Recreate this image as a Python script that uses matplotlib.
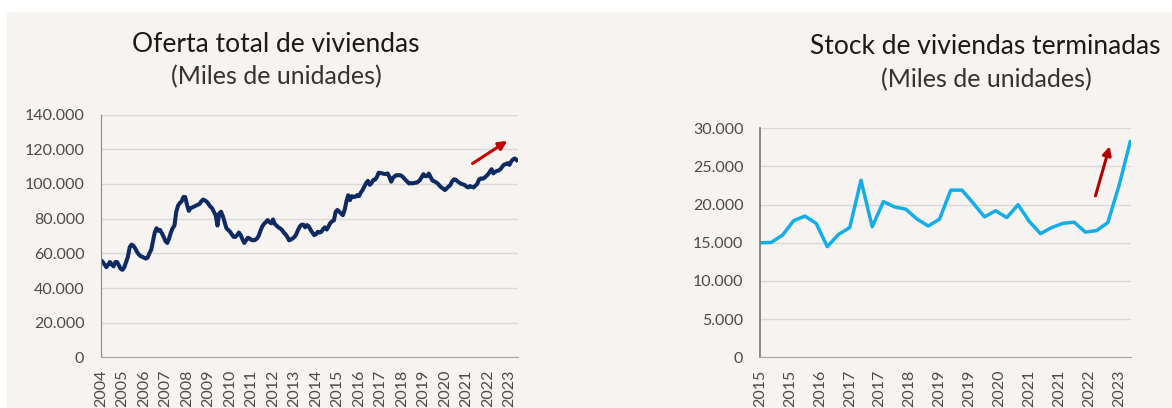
import matplotlib
matplotlib.use("Agg")
import matplotlib.pyplot as plt
from matplotlib.patches import Rectangle
from matplotlib.ticker import FuncFormatter

plt.rcParams['font.family'] = ['Lato', 'DejaVu Sans']

# ---- Oferta total de viviendas (monthly, Jan 2004 - May 2023), thousands
oferta_2004 = [56, 55, 53.5, 52, 53.5, 55, 53.5, 52.5, 55, 55, 53, 51]
oferta_2005 = [50.5, 52, 55, 58, 63.5, 65, 64.5, 63, 61, 59.5, 58.5, 58]
oferta_2006 = [57.5, 57, 57.5, 60, 62, 67, 72, 74.5, 73, 73.5, 71.5, 69.5]
oferta_2007 = [67, 66, 68.5, 72, 74.5, 76, 84, 87.5, 89, 90, 92.5, 92.5]
oferta_2008 = [88, 84.5, 86, 86.5, 87, 87.5, 88, 88.5, 90, 91, 90.5, 89.8]
oferta_2009 = [88.5, 87, 86, 84, 82, 76, 83, 84, 81.5, 78, 74.5, 73.5]
oferta_2010 = [72.5, 71, 69.5, 69.5, 70.5, 72, 70.5, 68, 66, 67.5, 69, 68.5]
oferta_2011 = [67.7, 67.5, 67.7, 68.5, 70, 73, 75.5, 77, 78, 79.2, 78, 77.3]
oferta_2012 = [79.5, 77, 76, 75, 74.4, 73.5, 72, 71, 69.5, 67.5, 68, 68.6]
oferta_2013 = [69.5, 71, 73.5, 75.5, 76.5, 76.5, 75, 76.3, 75.5, 73.5, 72, 70.5]
oferta_2014 = [71, 72.4, 72, 72.4, 74, 75, 73.7, 75.5, 77.5, 78.5, 79, 84]
oferta_2015 = [85, 84, 83, 82, 85, 90, 93.5, 90.7, 93, 92.5, 92.6, 93.6]
oferta_2016 = [93, 95, 96.5, 98.5, 100.5, 101.8, 99.5, 100.5, 102.3, 102.5, 104, 106.5]
oferta_2017 = [106.3, 106.1, 105.8, 105.7, 106.1, 104, 101.3, 103.5, 104.5, 105.1, 105, 105.1]
oferta_2018 = [104.5, 103.5, 102.3, 101.3, 100.3, 100.5, 100.3, 100.7, 100.7, 101.3, 102.2, 104]
oferta_2019 = [105.7, 104.5, 104.5, 106, 104, 102, 101.5, 101, 100.2, 99, 98, 97.3]
oferta_2020 = [96.5, 97.5, 98.5, 99.4, 101.5, 102.7, 102.5, 101.5, 100.8, 100.1, 99.8, 99.4]
oferta_2021 = [98.5, 98, 98.8, 98.3, 98, 99, 100, 102.5, 103.2, 103, 103.5, 104.5]
oferta_2022 = [105.5, 107, 108.5, 106.1, 107, 107.5, 107.8, 108.5, 110, 111.2, 111.5, 112]
oferta_2023 = [111, 113, 114.2, 114.7, 113.8]

oferta = (oferta_2004 + oferta_2005 + oferta_2006 + oferta_2007 + oferta_2008 +
          oferta_2009 + oferta_2010 + oferta_2011 + oferta_2012 + oferta_2013 +
          oferta_2014 + oferta_2015 + oferta_2016 + oferta_2017 + oferta_2018 +
          oferta_2019 + oferta_2020 + oferta_2021 + oferta_2022 + oferta_2023)
oferta_years = [str(y) for y in range(2004, 2024)]

# ---- Stock de viviendas terminadas (quarterly, 2015Q1 - 2023Q2), thousands
stock = [15.0, 15.05, 16.0, 17.9, 18.5, 17.55, 14.5, 16.1, 17.0, 23.2,
         17.1, 20.4, 19.7, 19.4, 18.1, 17.2, 18.1, 21.9, 21.9, 20.2,
         18.4, 19.2, 18.3, 20.0, 17.8, 16.2, 17.0, 17.55, 17.7, 16.4,
         16.6, 17.65, 22.5, 28.25]
stock_labels = ["2015", "2015", "2016", "2017", "2017", "2018", "2019",
                "2019", "2020", "2021", "2021", "2022", "2023"]

titles_left = ("Oferta total de viviendas", "(Miles de unidades)")
titles_right = ("Stock de viviendas terminadas", "(Miles de unidades)")

BG = "#F6F3F0"
GRID = "#D9D9D9"
TXT = "#4A4A4A"

def fmt(v, pos):
    n = int(round(v * 1000))
    return f"{n:,}".replace(",", ".")

fig = plt.figure(figsize=(11.72, 4.08), dpi=100, facecolor="white")
bg = fig.add_axes([0, 0, 1, 1], zorder=-10)
bg.set_xlim(0, 1172)
bg.set_ylim(408, 0)
bg.axis("off")
bg.add_patch(Rectangle((7, 12), 1165, 396, facecolor=BG, edgecolor="none"))

def style(ax, ymax, ystep):
    ax.set_facecolor("none")
    ax.set_ylim(0, ymax)
    ax.set_yticks([i * ystep for i in range(int(ymax / ystep) + 1)])
    ax.yaxis.set_major_formatter(FuncFormatter(fmt))
    ax.grid(axis="y", color=GRID, linewidth=1.0)
    ax.set_axisbelow(True)
    for s in ("top", "right"):
        ax.spines[s].set_visible(False)
    ax.tick_params(axis="both", length=0, labelsize=11.5, colors=TXT)
    ax.tick_params(axis="y", pad=12)
    ax.tick_params(axis="x", pad=9)

# Left chart
ax1 = fig.add_axes([101 / 1172, 1 - 357.4 / 408, 416.5 / 1172, 242.8 / 408])
m1 = list(range(len(oferta)))
ax1.plot(m1, oferta, color="#0E2A62", linewidth=2.9, solid_joinstyle="round")
style(ax1, 140, 20)
ax1.set_xlim(0, 232.5)
ax1.set_xticks([12 * i for i in range(len(oferta_years))])
ax1.set_xticklabels(oferta_years, rotation=90)
ax1.spines["left"].set_color("#7A89B3")
ax1.spines["bottom"].set_color("#A6A6A6")
ax1.annotate("", xy=(228.1, 125.7), xytext=(206.1, 110.9),
             arrowprops=dict(arrowstyle="-|>,head_length=0.5,head_width=0.25",
                             color="#C00000", lw=2.2))

# Right chart
ax2 = fig.add_axes([760 / 1172, 1 - 357.3 / 408, 371 / 1172, 229 / 408])
m2 = [3 * i for i in range(len(stock))]
ax2.plot(m2, stock, color="#13AEEA", linewidth=2.5, solid_joinstyle="round")
style(ax2, 30, 5)
ax2.set_xlim(0, 99.2)
ax2.set_xticks([8 * i for i in range(len(stock_labels))])
ax2.set_xticklabels(stock_labels, rotation=90)
ax2.spines["left"].set_color("#7F7F7F")
ax2.spines["left"].set_linewidth(1.3)
ax2.spines["bottom"].set_color("#A6A6A6")
ax2.annotate("", xy=(93.7, 28.0), xytext=(89.5, 20.8),
             arrowprops=dict(arrowstyle="-|>,head_length=0.5,head_width=0.25",
                             color="#B00000", lw=2.2))

# Titles
fig.text(276 / 1172, 1 - 44 / 408, titles_left[0], ha="center", va="center",
         fontsize=19, color="#1A1A1A")
fig.text(276 / 1172, 1 - 77 / 408, titles_left[1], ha="center", va="center",
         fontsize=18, color="#333333")
fig.text(985 / 1172, 1 - 47 / 408, titles_right[0], ha="center", va="center",
         fontsize=19, color="#1A1A1A")
fig.text(986 / 1172, 1 - 80 / 408, titles_right[1], ha="center", va="center",
         fontsize=18, color="#333333")

fig.savefig("out.png", dpi=100, facecolor="white")
